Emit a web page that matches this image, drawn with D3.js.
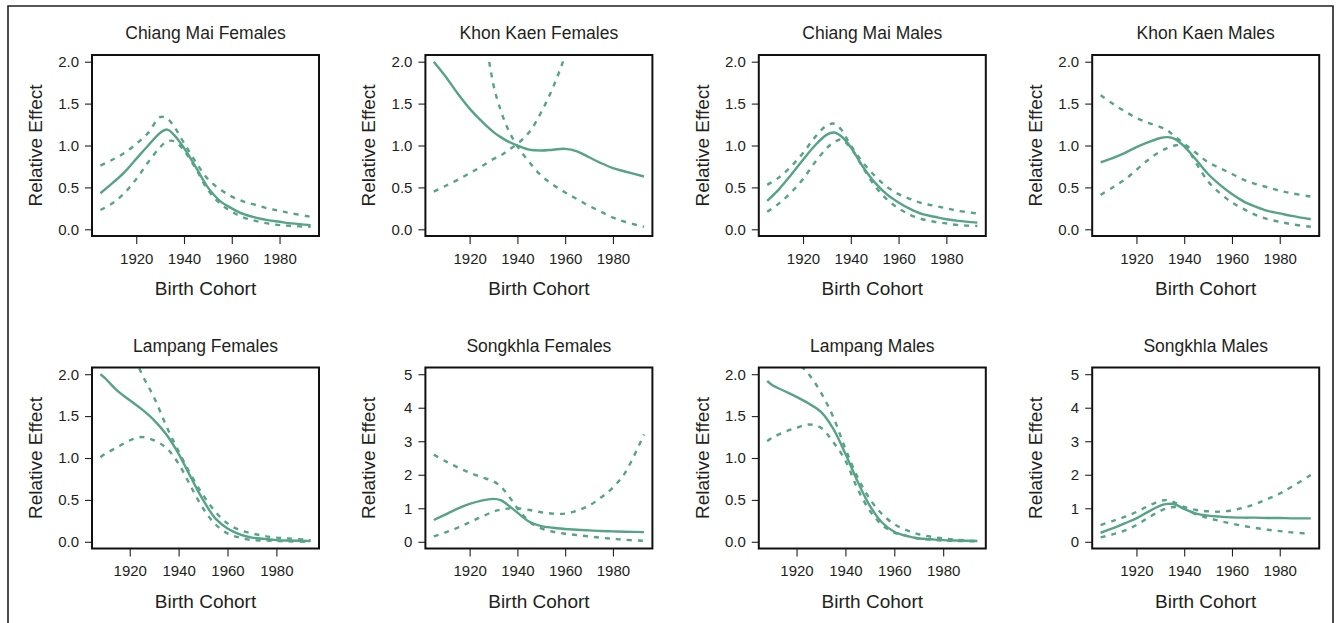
<!DOCTYPE html>
<html>
<head>
<meta charset="utf-8">
<script src="https://cdn.jsdelivr.net/npm/d3@7/dist/d3.min.js"></script>
<style>
  html, body { margin: 0; padding: 0; background: #fff; }
  svg { display: block; font-family: "Liberation Sans", Arial, sans-serif; }
</style>
</head>
<body>
<svg id="chart" width="1336" height="623"></svg>
<script>
// Birth cohort grids (years) used by the panels
const cohortYears = [1905, 1910, 1915, 1920, 1925, 1930, 1933, 1936, 1940, 1945, 1950, 1955, 1960, 1965, 1970, 1975, 1980, 1985, 1993];
const lampangYears = [1908, 1910, 1915, 1920, 1925, 1930, 1935, 1940, 1945, 1950, 1955, 1960, 1965, 1970, 1975, 1980, 1985, 1994];

// Tick labels
const xTicks = [1920, 1940, 1960, 1980];
const yTicksSmall = [0, 0.5, 1, 1.5, 2];
const yTicksLarge = [0, 1, 2, 3, 4, 5];

// Chiang Mai Females
const cmFemEst   = [0.43, 0.55, 0.68, 0.84, 1.00, 1.15, 1.19, 1.12, 0.97, 0.74, 0.50, 0.34, 0.25, 0.18, 0.14, 0.11, 0.09, 0.07, 0.05];
const cmFemUpper = [0.76, 0.83, 0.91, 1.02, 1.15, 1.34, 1.32, 1.22, 1.03, 0.80, 0.60, 0.48, 0.39, 0.33, 0.29, 0.25, 0.22, 0.19, 0.15];
const cmFemLower = [0.23, 0.31, 0.43, 0.60, 0.80, 0.98, 1.05, 1.05, 0.94, 0.72, 0.47, 0.31, 0.21, 0.14, 0.10, 0.07, 0.05, 0.04, 0.03];

// Khon Kaen Females
const kkFemEst   = [2.00, 1.82, 1.62, 1.44, 1.29, 1.16, 1.10, 1.05, 1.00, 0.95, 0.94, 0.95, 0.96, 0.93, 0.86, 0.79, 0.73, 0.69, 0.63];
const kkFemBandA = [0.45, 0.52, 0.59, 0.67, 0.75, 0.84, 0.88, 0.94, 1.02, 1.16, 1.40, 1.70, 2.08, 2.60, 3.20, 4.00, 4.80, 5.80, 7.50];
const kkFemBandB = [8.00, 6.00, 4.60, 3.50, 2.60, 1.72, 1.42, 1.20, 0.99, 0.80, 0.64, 0.53, 0.44, 0.36, 0.28, 0.21, 0.14, 0.09, 0.03];

// Chiang Mai Males
const cmMalEst   = [0.34, 0.48, 0.65, 0.83, 1.00, 1.13, 1.155, 1.11, 0.98, 0.75, 0.56, 0.42, 0.32, 0.24, 0.18, 0.15, 0.12, 0.10, 0.08];
const cmMalUpper = [0.53, 0.62, 0.75, 0.91, 1.10, 1.24, 1.26, 1.19, 1.00, 0.80, 0.64, 0.51, 0.42, 0.36, 0.31, 0.28, 0.25, 0.22, 0.19];
const cmMalLower = [0.21, 0.31, 0.44, 0.60, 0.80, 0.97, 1.04, 1.07, 0.97, 0.74, 0.52, 0.36, 0.25, 0.17, 0.12, 0.09, 0.07, 0.05, 0.04];

// Khon Kaen Males
const kkMalEst   = [0.80, 0.85, 0.91, 0.98, 1.04, 1.09, 1.10, 1.08, 0.99, 0.83, 0.66, 0.53, 0.42, 0.33, 0.27, 0.22, 0.19, 0.16, 0.12];
const kkMalUpper = [1.60, 1.50, 1.41, 1.33, 1.27, 1.22, 1.18, 1.11, 1.02, 0.91, 0.80, 0.73, 0.66, 0.59, 0.54, 0.50, 0.46, 0.43, 0.39];
const kkMalLower = [0.41, 0.50, 0.59, 0.71, 0.83, 0.93, 0.97, 1.00, 1.00, 0.79, 0.57, 0.43, 0.32, 0.24, 0.17, 0.12, 0.09, 0.06, 0.03];

// Lampang Females
const lpFemEst   = [2.00, 1.95, 1.80, 1.69, 1.58, 1.45, 1.28, 1.05, 0.77, 0.50, 0.28, 0.16, 0.09, 0.05, 0.035, 0.02, 0.015, 0.01];
const lpFemUpper = [3.30, 3.10, 2.70, 2.35, 2.00, 1.72, 1.38, 1.08, 0.80, 0.56, 0.36, 0.22, 0.14, 0.10, 0.07, 0.05, 0.04, 0.02];
const lpFemLower = [1.01, 1.05, 1.13, 1.21, 1.25, 1.21, 1.12, 0.93, 0.66, 0.40, 0.21, 0.10, 0.05, 0.02, 0.015, 0.01, 0.005, 0.0];

// Songkhla Females
const skFemEst   = [0.65, 0.82, 0.99, 1.13, 1.23, 1.28, 1.24, 1.10, 0.87, 0.60, 0.47, 0.42, 0.38, 0.36, 0.34, 0.32, 0.31, 0.30, 0.29];
const skFemBandA = [0.16, 0.28, 0.42, 0.58, 0.75, 0.90, 0.96, 0.99, 1.00, 0.95, 0.88, 0.84, 0.84, 0.93, 1.08, 1.32, 1.62, 2.05, 3.20];
const skFemBandB = [2.60, 2.40, 2.22, 2.06, 1.93, 1.80, 1.65, 1.40, 1.00, 0.60, 0.40, 0.30, 0.24, 0.20, 0.16, 0.12, 0.09, 0.06, 0.03];

// Lampang Males
const lpMalEst   = [1.92, 1.87, 1.80, 1.73, 1.65, 1.55, 1.35, 1.05, 0.72, 0.43, 0.23, 0.12, 0.07, 0.04, 0.03, 0.02, 0.015, 0.01];
const lpMalUpper = [2.60, 2.45, 2.30, 2.15, 2.00, 1.78, 1.49, 1.11, 0.77, 0.51, 0.33, 0.21, 0.14, 0.09, 0.06, 0.04, 0.025, 0.01];
const lpMalLower = [1.20, 1.24, 1.31, 1.36, 1.40, 1.36, 1.19, 0.97, 0.63, 0.37, 0.20, 0.11, 0.07, 0.04, 0.025, 0.015, 0.01, 0.005];

// Songkhla Males
const skMalEst   = [0.27, 0.40, 0.55, 0.70, 0.90, 1.08, 1.13, 1.12, 0.98, 0.84, 0.78, 0.75, 0.73, 0.72, 0.72, 0.71, 0.71, 0.70, 0.70];
const skMalUpper = [0.50, 0.62, 0.74, 0.89, 1.07, 1.22, 1.24, 1.17, 1.04, 0.95, 0.91, 0.90, 0.94, 1.02, 1.13, 1.28, 1.44, 1.64, 1.99];
const skMalLower = [0.13, 0.22, 0.33, 0.50, 0.72, 0.92, 1.00, 1.04, 0.99, 0.82, 0.71, 0.62, 0.54, 0.47, 0.41, 0.36, 0.32, 0.28, 0.24];

const panelTitles = [
  "Chiang Mai Females", "Khon Kaen Females", "Chiang Mai Males", "Khon Kaen Males",
  "Lampang Females", "Songkhla Females", "Lampang Males", "Songkhla Males"
];

// Panel table assembled from the arrays above
const panels = [
  { years: cohortYears,  yMax: 2, yTicks: yTicksSmall, est: cmFemEst, bands: [cmFemUpper, cmFemLower] },
  { years: cohortYears,  yMax: 2, yTicks: yTicksSmall, est: kkFemEst, bands: [kkFemBandA, kkFemBandB] },
  { years: cohortYears,  yMax: 2, yTicks: yTicksSmall, est: cmMalEst, bands: [cmMalUpper, cmMalLower] },
  { years: cohortYears,  yMax: 2, yTicks: yTicksSmall, est: kkMalEst, bands: [kkMalUpper, kkMalLower] },
  { years: lampangYears, yMax: 2, yTicks: yTicksSmall, est: lpFemEst, bands: [lpFemUpper, lpFemLower] },
  { years: cohortYears,  yMax: 5, yTicks: yTicksLarge, est: skFemEst, bands: [skFemBandA, skFemBandB] },
  { years: lampangYears, yMax: 2, yTicks: yTicksSmall, est: lpMalEst, bands: [lpMalUpper, lpMalLower] },
  { years: cohortYears,  yMax: 5, yTicks: yTicksLarge, est: skMalEst, bands: [skMalUpper, skMalLower] }
].map((p, i) => ({ ...p, title: panelTitles[i] }));

const svg = d3.select("#chart");
const ink = "#231f20";
const lineColor = "#56a386";

// Outer frame (top, left and right edges)
svg.append("path")
  .attr("d", "M8,623 L8,6 L1333,6 L1333,623")
  .attr("fill", "none")
  .attr("stroke", ink)
  .attr("stroke-width", 1.6);

const boxW = 227, boxH = 181;
const colLeft = i => 92 + i * 333.4;
const rowTop = [55, 367.5];

panels.forEach((p, i) => {
  const col = i % 4, row = Math.floor(i / 4);
  const left = colLeft(col), top = rowTop[row];

  const x0 = d3.min(p.years), x1 = d3.max(p.years);
  const xPad = (x1 - x0) * 0.04;
  const x = d3.scaleLinear().domain([x0 - xPad, x1 + xPad]).range([left, left + boxW]);
  const yPad = p.yMax * 0.04;
  const y = d3.scaleLinear().domain([-yPad, p.yMax + yPad]).range([top + boxH, top]);

  const g = svg.append("g");
  const clipId = "clip" + i;
  g.append("clipPath").attr("id", clipId)
    .append("rect").attr("x", left).attr("y", top).attr("width", boxW).attr("height", boxH);

  const line = d3.line()
    .x((d, k) => x(p.years[k]))
    .y(d => y(d))
    .curve(d3.curveCatmullRom.alpha(0.5));

  const plot = g.append("g").attr("clip-path", `url(#${clipId})`);
  p.bands.forEach(b => {
    plot.append("path")
      .attr("d", line(b))
      .attr("fill", "none")
      .attr("stroke", lineColor)
      .attr("stroke-width", 2.4)
      .attr("stroke-dasharray", "5,6");
  });
  plot.append("path")
    .attr("d", line(p.est))
    .attr("fill", "none")
    .attr("stroke", lineColor)
    .attr("stroke-width", 2.4);

  // Axes
  const yAxis = d3.axisLeft(y)
    .tickValues(p.yTicks)
    .tickSize(7)
    .tickPadding(6)
    .tickFormat(p.yMax === 2 ? d3.format(".1f") : d3.format("d"));
  const ya = g.append("g").attr("transform", `translate(${left},0)`).call(yAxis);

  const xAxis = d3.axisBottom(x)
    .tickValues(xTicks)
    .tickSize(8)
    .tickPadding(9)
    .tickFormat(d3.format("d"));
  const xa = g.append("g").attr("transform", `translate(0,${top + boxH})`).call(xAxis);

  [ya, xa].forEach(a => {
    a.select(".domain").remove();
    a.selectAll(".tick line").attr("stroke", ink).attr("stroke-width", 1.1);
    a.selectAll(".tick text").attr("fill", ink).style("font-size", "15px");
  });

  // Plot box
  g.append("rect")
    .attr("x", left).attr("y", top)
    .attr("width", boxW).attr("height", boxH)
    .attr("fill", "none")
    .attr("stroke", "#111")
    .attr("stroke-width", 2);

  // Titles and axis labels
  g.append("text")
    .attr("x", left + boxW / 2).attr("y", top - 16)
    .attr("text-anchor", "middle")
    .attr("fill", ink)
    .style("font-size", "17.5px")
    .text(p.title);

  g.append("text")
    .attr("x", left + boxW / 2).attr("y", top + boxH + 59)
    .attr("text-anchor", "middle")
    .attr("fill", ink)
    .style("font-size", "19px")
    .text("Birth Cohort");

  g.append("text")
    .attr("transform", `translate(${left - 50},${top + boxH / 2}) rotate(-90)`)
    .attr("text-anchor", "middle")
    .attr("fill", ink)
    .style("font-size", "19px")
    .text("Relative Effect");
});
</script>
</body>
</html>
